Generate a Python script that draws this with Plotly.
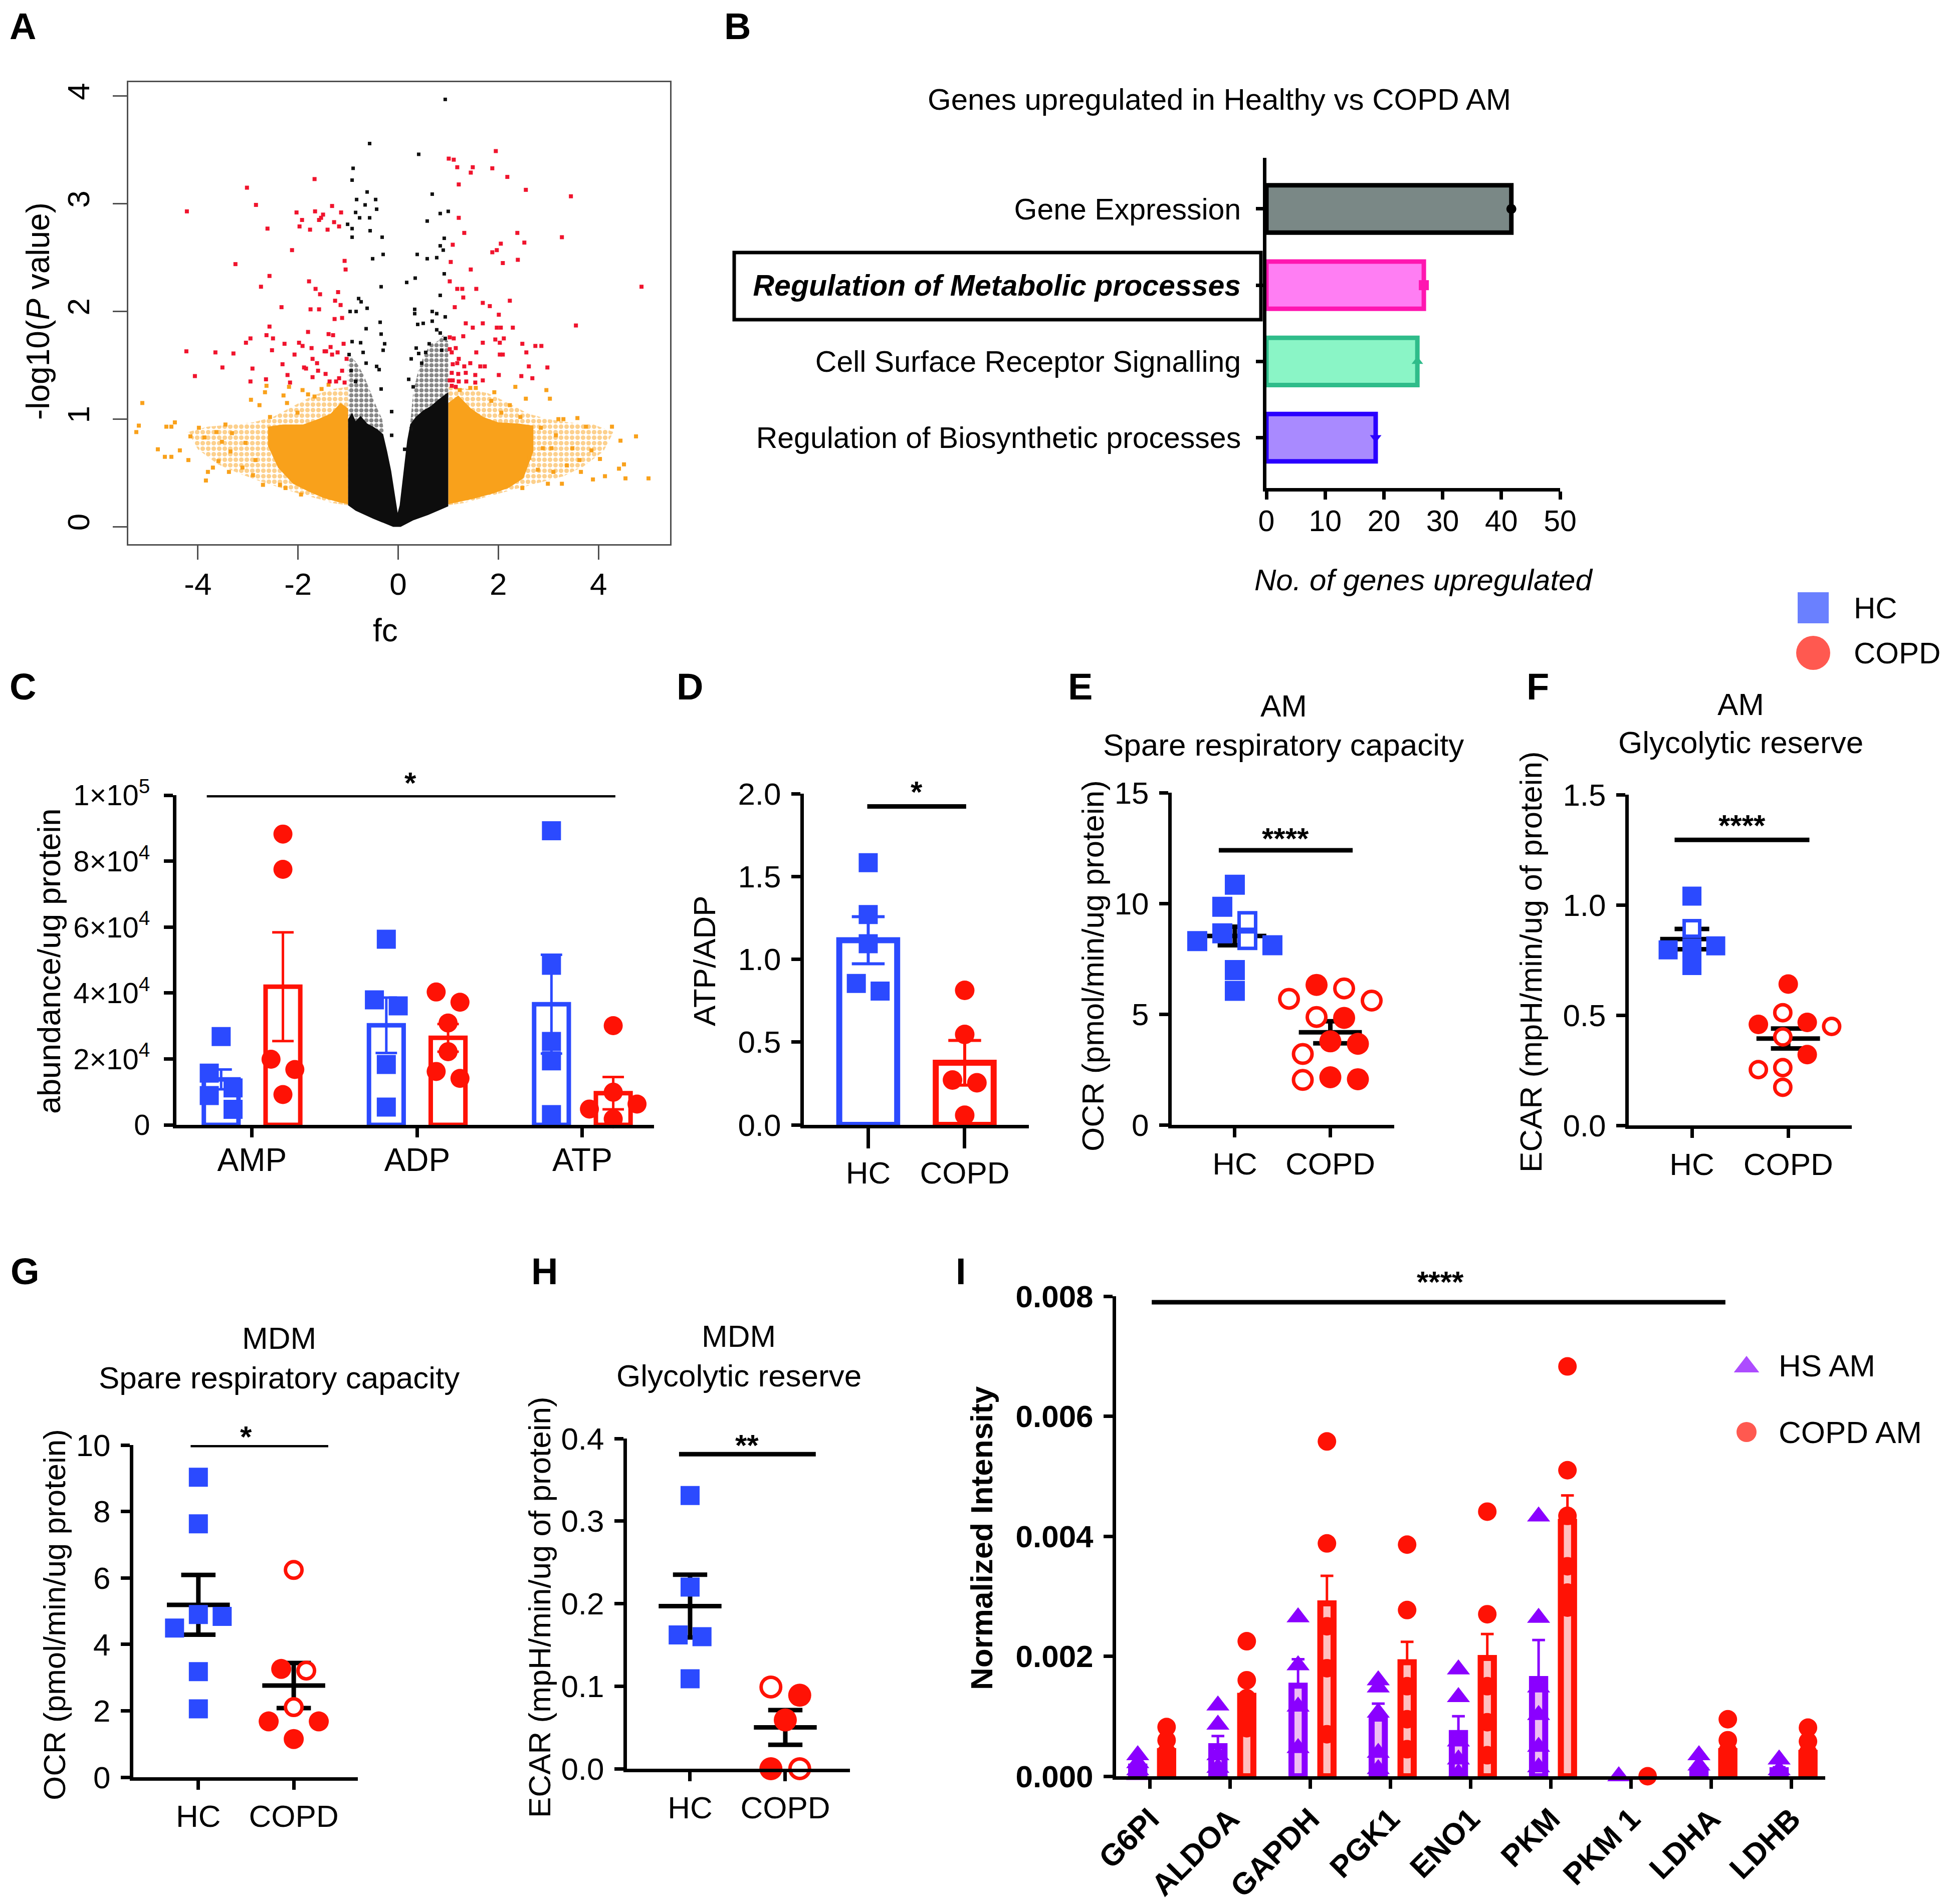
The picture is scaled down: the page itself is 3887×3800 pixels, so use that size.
import plotly.graph_objects as go

W, H = 3887, 3800
FONT = "Liberation Sans, Arial, Helvetica, sans-serif"
BLUE = "#2b4aff"
RED = "#ff1205"
PURPLE = "#8a00ff"
ORANGE = "#f9a11b"
VRED = "#f0142d"
LW = 7
FS = 62

# ======================= DATA =======================
# ---- Panel A: volcano (fc, -log10 P) ----
red_pts = [(-4.22,2.93),(-4.23,1.63),(-4.06,1.40),(-3.65,1.62),(-3.51,1.48),(-3.29,1.61),(-3.25,2.44),
 (-3.02,3.15),(-3.04,1.71),(-2.95,1.75),(-2.91,1.47),(-2.95,1.35),(-2.84,2.99),(-2.74,2.23),(-2.63,1.78),
 (-2.61,2.77),(-2.57,2.33),(-2.57,1.86),(-2.64,1.37),(-2.52,1.64),(-2.50,1.75),(-2.33,2.04),(-2.31,1.51),
 (-2.27,1.70),(-2.21,1.41),(-2.16,1.34),(-2.12,2.57),(-2.07,1.60),(-2.03,2.92),(-1.97,2.79),(-1.98,1.71),
 (-1.92,2.85),(-1.91,1.68),(-1.88,1.48),(-1.84,1.47),(-1.78,2.28),(-1.80,1.81),(-1.76,2.76),(-1.75,2.02),
 (-1.73,1.66),(-1.71,1.56),(-1.71,1.39),(-1.67,3.23),(-1.66,2.93),(-1.65,2.21),(-1.62,1.52),(-1.58,2.85),
 (-1.56,2.16),(-1.58,2.02),(-1.54,2.87),(-1.50,2.90),(-1.47,1.63),(-1.44,1.63),(-1.41,2.76),(-1.39,1.79),
 (-1.37,1.35),(-1.35,1.67),(-1.32,2.98),(-1.32,1.60),(-1.30,1.78),(-1.28,2.83),(-1.27,1.93),(-1.26,2.10),
 (-1.24,1.35),(-1.21,1.62),(-1.20,2.18),(-1.18,2.79),(-1.15,2.06),(-1.14,2.92),(-1.12,1.94),(-1.09,1.70),
 (-1.07,2.47),(-1.05,2.39),(-1.03,1.56),(-1.07,1.34),(-1.12,1.45),(-1.18,1.38),(-1.45,1.42),(-1.60,1.45),
 (1.01,3.42),(1.11,3.41),(1.18,3.34),(1.21,3.18),(1.45,3.29),(1.49,3.34),(1.88,3.33),(1.95,3.49),
 (2.18,3.25),(2.55,3.13),(3.45,3.07),(1.21,2.87),(1.32,2.73),(1.09,2.62),(1.88,2.55),(1.97,2.57),
 (2.05,2.63),(2.38,2.73),(2.52,2.64),(3.27,2.69),(1.05,2.46),(2.09,2.45),(2.39,2.48),(1.45,2.39),
 (1.03,2.28),(1.18,2.21),(1.28,2.21),(1.30,2.13),(1.56,2.21),(1.69,2.08),(1.83,2.05),(2.23,2.10),
 (4.86,2.23),(1.13,2.04),(1.35,1.89),(1.49,1.85),(1.69,1.89),(2.01,1.97),(1.97,1.85),(2.05,1.85),
 (2.29,1.85),(3.55,1.87),(1.03,1.76),(1.11,1.75),(1.30,1.77),(1.56,1.62),(1.69,1.71),(1.94,1.74),
 (2.03,1.71),(2.11,1.75),(2.48,1.70),(2.74,1.68),(2.86,1.68),(1.03,1.65),(1.07,1.62),(1.15,1.66),
 (1.21,1.56),(2.03,1.60),(2.09,1.60),(2.56,1.62),(1.09,1.51),(1.18,1.52),(1.32,1.49),(1.44,1.52),
 (1.64,1.49),(1.73,1.49),(2.61,1.49),(2.98,1.48),(1.07,1.43),(1.20,1.42),(1.35,1.43),(1.54,1.41),
 (2.01,1.41),(2.46,1.40),(2.68,1.38),(1.03,1.36),(1.09,1.36),(1.21,1.35),(1.36,1.35),(1.54,1.34),
 (1.69,1.36),(1.07,1.31),(1.15,1.30)]
black_pts = [(0.94,3.97),(-0.57,3.56),(0.41,3.46),(-0.90,3.33),(-0.92,3.22),(-0.62,3.11),(0.68,3.09),
 (-0.83,3.04),(-0.45,3.04),(-0.66,2.99),(-0.43,2.95),(1.00,2.93),(0.84,2.91),(-0.85,2.92),(-0.77,2.87),
 (-0.57,2.87),(0.58,2.84),(-1.01,2.81),(-0.92,2.77),(-0.56,2.75),(-0.32,2.69),(-0.92,2.69),(0.92,2.68),
 (0.90,2.57),(0.84,2.61),(-0.30,2.53),(0.38,2.53),(-0.51,2.49),(0.58,2.49),(0.77,2.50),(-0.34,2.23),
 (0.17,2.27),(0.34,2.31),(0.92,2.35),(0.84,2.15),(-0.79,2.12),(-0.74,2.09),(-0.62,2.03),(-0.84,2.00),
 (-0.96,2.00),(0.33,2.02),(0.33,1.98),(0.68,2.00),(0.77,1.98),(0.94,1.95),(-0.36,1.90),(0.39,1.88),
 (0.50,1.89),(0.68,1.91),(-0.64,1.84),(-0.34,1.79),(0.77,1.83),(0.84,1.80),(-0.92,1.72),(-0.75,1.71),
 (-0.27,1.70),(0.36,1.66),(0.41,1.61),(0.62,1.70),(-0.30,1.64),(-0.64,1.52),(-0.43,1.49),(-0.38,1.46),
 (0.26,1.56),(0.47,1.52),(-0.13,1.07),(-0.13,0.85),(0.21,1.37),(0.30,1.30),(-0.34,1.28),(-0.94,1.45),
 (-0.85,1.35),(0.87,1.64),(0.94,1.75),(0.13,0.72),(0.26,0.91),(-0.70,1.62),(-0.98,1.60),(0.55,1.62)]
orange_pts = [(-5.11,1.15),(-5.18,0.94),(-5.23,0.88),(-4.63,0.93),(-4.53,0.93),(-4.46,0.97),(-4.80,0.72),
 (-4.66,0.65),(-4.53,0.65),(-4.36,0.71),(-4.19,0.62),(-4.15,0.84),(-3.98,0.92),(-3.87,0.83),(-3.84,0.43),
 (-3.80,0.51),(-3.70,0.55),(-3.63,0.88),(-3.59,0.61),(-3.52,0.79),(-3.38,0.51),(-3.35,0.70),(-3.32,0.87),
 (-3.11,0.55),(-2.94,1.18),(-2.77,1.13),(-2.70,0.39),(-2.66,1.25),(-2.63,1.31),(-2.56,1.02),(-2.36,0.39),
 (-2.29,1.22),(-2.25,0.36),(-2.22,1.15),(-2.18,1.30),(-1.91,1.27),(-1.80,1.23),(-2.01,1.06),(-1.94,0.30),
 (-1.67,1.21),(-1.53,1.28),(-1.39,1.32),(-3.05,0.78),(-2.85,0.62),(-3.45,0.95),(-2.90,0.48),
 (5.00,0.45),(4.75,0.84),(4.54,0.45),(4.51,0.58),(4.44,0.80),(4.41,0.54),(4.27,0.93),(4.13,0.47),
 (4.03,0.63),(3.89,0.44),(3.86,0.71),(3.75,0.93),(3.65,0.51),(3.62,0.62),(3.58,1.01),(3.48,0.73),
 (3.37,0.57),(3.30,1.00),(3.27,0.40),(3.20,1.00),(3.10,0.51),(3.06,0.73),(2.99,0.40),(2.96,1.27),
 (3.03,1.19),(2.79,0.53),(2.62,0.64),(2.55,1.19),(2.48,0.36),(2.44,1.02),(2.34,1.30),(2.23,1.13),
 (2.06,1.06),(1.92,1.25),(1.86,1.17),(1.55,1.29),(1.44,1.29),(1.23,1.27),(2.89,0.73),(3.15,0.85),(2.85,0.92)]
# dense regions (envelopes)
orange_halo_L = [(-1.0,0.20),(-1.0,1.30),(-1.3,1.28),(-1.7,1.22),(-2.1,1.12),(-2.5,1.02),(-2.9,0.97),(-3.3,0.95),
 (-3.8,0.93),(-4.2,0.88),(-4.0,0.72),(-3.6,0.58),(-3.2,0.50),(-2.8,0.43),(-2.4,0.37),(-2.0,0.31),(-1.6,0.26),(-1.3,0.22)]
orange_core_L = [(-1.0,0.21),(-1.0,1.10),(-1.15,1.15),(-1.35,1.05),(-1.6,1.00),(-1.9,0.95),(-2.3,0.95),(-2.6,0.93),
 (-2.6,0.75),(-2.4,0.55),(-2.1,0.40),(-1.8,0.33),(-1.5,0.27),(-1.2,0.23)]
orange_halo_R = [(1.0,0.20),(1.0,1.30),(1.4,1.28),(1.8,1.24),(2.2,1.15),(2.6,1.05),(3.0,1.00),(3.4,0.97),(3.9,0.95),
 (4.3,0.88),(4.1,0.70),(3.7,0.56),(3.3,0.47),(2.9,0.42),(2.5,0.37),(2.1,0.32),(1.7,0.27),(1.3,0.22)]
orange_core_R = [(1.0,0.21),(1.0,1.15),(1.2,1.22),(1.45,1.10),(1.7,1.02),(2.0,0.97),(2.4,0.96),(2.7,0.94),(2.7,0.70),
 (2.5,0.45),(2.2,0.36),(1.9,0.31),(1.5,0.26),(1.2,0.23)]
black_halo_L = [(-1.0,0.95),(-1.0,1.55),(-0.92,1.58),(-0.8,1.50),(-0.68,1.40),(-0.55,1.25),(-0.42,1.10),(-0.32,1.00),(-0.28,0.86)]
black_halo_R = [(0.24,0.95),(0.30,1.25),(0.40,1.45),(0.52,1.60),(0.65,1.70),(0.78,1.72),(0.90,1.78),(1.0,1.72),(1.0,1.20)]
black_core = [(-1.0,0.20),(-1.0,1.00),(-0.92,1.06),(-0.85,0.98),(-0.75,1.03),(-0.62,0.96),(-0.5,0.93),(-0.4,0.90),
 (-0.3,0.86),(-0.22,0.70),(-0.14,0.52),(-0.08,0.34),(-0.04,0.20),(-0.01,0.13),(0.03,0.20),(0.08,0.40),(0.13,0.60),
 (0.18,0.80),(0.24,0.95),(0.35,1.02),(0.5,1.08),(0.65,1.12),(0.8,1.18),(0.92,1.22),(1.0,1.25),(1.0,0.19),
 (0.6,0.11),(0.3,0.06),(0.05,0.0),(-0.1,0.0),(-0.5,0.075),(-0.85,0.15)]

# ---- Panel B ----
B_terms = ["Gene Expression", "Regulation of Metabolic processes",
           "Cell Surface Receptor Signalling", "Regulation of Biosynthetic processes"]
B_counts = [41.7, 26.8, 25.7, 18.6]

# ---- Panel C ----
C_metab = ["AMP", "ADP", "ATP"]
C_hc_mean = [13.8e3, 30.2e3, 36.6e3]
C_hc_sem = [3.0e3, 8.4e3, 15.0e3]
C_copd_mean = [41.9e3, 26.4e3, 9.6e3]
C_copd_sem = [16.5e3, 4.2e3, 4.9e3]
C_hc_pts = [[26.8e3, 15.7e3, 11.2e3, 8.9e3, 4.7e3], [56.3e3, 36.1e3, 37.9e3, 18.3e3, 5.4e3],
            [89.2e3, 48.4e3, 25.3e3, 19.4e3, 3.1e3]]
C_copd_pts = [[88.2e3, 77.5e3, 19.9e3, 16.8e3, 9.2e3], [40.3e3, 37.2e3, 30.9e3, 22.2e3, 14.1e3, 16.2e3],
              [30.1e3, 9.9e3, 6.3e3, 4.8e3, 1.8e3]]

groups = ["HC", "COPD"]
# ---- Panel D ----
D_hc = [1.583, 1.27, 1.094, 0.808, 0.854]
D_copd = [0.8125, 0.546, 0.271, 0.254, 0.058]
D_mean = [1.115, 0.375]
D_sem = [0.142, 0.135]
# ---- Panel E ----
E_hc_filled = [10.84, 9.85, 8.65, 8.11, 6.99, 6.05, 8.30]
E_hc_open = [9.2, 8.34]
E_copd_filled = [6.32, 4.83, 3.66, 3.77, 2.15, 2.06]
E_copd_open = [5.61, 5.69, 6.16, 4.87, 3.20, 2.03]
E_mean = [8.53, 4.18]
E_sem = [0.42, 0.50]
# ---- Panel F ----
F_hc_filled = [1.04, 0.805, 0.725, 0.814, 0.796]
F_hc_open = [0.893]
F_copd_filled = [0.641, 0.467, 0.458, 0.321]
F_copd_open = [0.511, 0.449, 0.401, 0.262, 0.253, 0.173]
F_mean = [0.845, 0.394]
F_sem = [0.046, 0.045]
# ---- Panel G ----
G_hc_filled = [9.03, 7.63, 4.84, 4.90, 4.49, 3.18, 2.06]
G_copd_filled = [3.26, 1.68, 1.68, 1.15]
G_copd_open = [6.24, 3.21, 2.11]
G_mean = [5.19, 2.76]
G_sem = [0.90, 0.68]
# ---- Panel H ----
H_hc_filled = [0.331, 0.220, 0.162, 0.160, 0.109]
H_copd_filled = [0.089, 0.059, 0.0]
H_copd_open = [0.099, 0.0]
H_mean = [0.197, 0.050]
H_sem = [0.038, 0.021]
# ---- Panel I ----
I_genes = ["G6PI", "ALDOA", "GAPDH", "PGK1", "ENO1", "PKM", "PKM 1", "LDHA", "LDHB"]
I_hs_mean = [0.00016, 0.00050, 0.00151, 0.00096, 0.00072, 0.00162, 0.0, 0.00010, 0.00010]
I_hs_sem = [0.00006, 0.00017, 0.00044, 0.00025, 0.00028, 0.00065, 0.0, 0.00006, 0.00005]
I_copd_mean = [0.00042, 0.00134, 0.00288, 0.00190, 0.00197, 0.00424, 0.0, 0.00042, 0.00039]
I_copd_sem = [0.00010, 0.00005, 0.00046, 0.00034, 0.00040, 0.00044, 0.0, 0.00010, 0.00010]
I_hs_pts = [[0.00035, 0.00022, 0.0001, 0.00005, 0.00002], [0.00118, 0.00086, 0.00035, 0.00014, 0.00005],
            [0.00265, 0.00185, 0.00116, 0.00047], [0.0016, 0.00148, 0.00106, 0.00039, 0.00012],
            [0.00178, 0.00132, 0.00058, 0.00028, 0.00005], [0.00433, 0.00264, 0.00148, 0.00102, 0.00049, 0.00015],
            [0.0], [0.00035, 0.00018, 0.00004], [0.00028, 0.0001, 0.00003]]
I_copd_pts = [[0.00082, 0.0006, 0.0004, 0.00028, 0.00014], [0.00225, 0.0016, 0.0013, 0.00115, 0.00095, 0.0008],
              [0.00558, 0.00388, 0.0025, 0.0018, 0.0007], [0.00386, 0.00277, 0.0015, 0.00095, 0.00045],
              [0.00441, 0.0027, 0.0015, 0.0009, 0.00035], [0.00683, 0.0051, 0.00434, 0.0035, 0.00306, 0.00281],
              [0.0], [0.00095, 0.0006, 0.00042, 0.00028, 0.0001], [0.00081, 0.00058, 0.00039, 0.00025, 0.0001]]

# ======================= LAYOUT GEOMETRY (pixels) =======================
GEO = {
    1: dict(x0=248, x1=1329, yt=156, yb=1078, xr=[-5.39, 5.43], yr=[-0.161, 4.13]),
    2: dict(x0=2519, x1=3105, yt=307, yb=966, xr=[0, 50], yr=[3.66, -0.67]),
    3: dict(x0=344, x1=1297, yt=1579, yb=2237, xr=[-0.458, 2.434], yr=[0, 1e5]),
    4: dict(x0=1596, x1=2045, yt=1576, yb=2237, xr=[-0.667, 1.665], yr=[0, 2]),
    5: dict(x0=2330, x1=2774, yt=1574, yb=2237, xr=[-0.661, 1.669], yr=[0, 15]),
    6: dict(x0=3242, x1=3687, yt=1578, yb=2238, xr=[-0.656, 1.66], yr=[0, 1.5]),
    7: dict(x0=258, x1=706, yt=2876, yb=3539, xr=[-0.682, 1.672], yr=[0, 10]),
    8: dict(x0=1243, x1=1688, yt=2863, yb=3522, xr=[-0.663, 1.679], yr=[0, 0.4]),
    9: dict(x0=2219, x1=3634, yt=2579, yb=3537, xr=[-0.425, 8.42], yr=[0, 0.008]),
}


def ppu(n):
    g = GEO[n]
    return ((g["x1"] - g["x0"]) / (g["xr"][1] - g["xr"][0]),
            (g["yb"] - g["yt"]) / abs(g["yr"][1] - g["yr"][0]))


def ax(n):
    return ("x" if n == 1 else f"x{n}"), ("y" if n == 1 else f"y{n}")


def swarm(vals, n, d, gap=1.15):
    """beeswarm offsets (axis units) computed from the values"""
    px_x, px_y = ppu(n)
    ys = [v * px_y for v in vals]
    order = sorted(range(len(vals)), key=lambda i: -vals[i])
    step = d * 0.25
    cands = [0.0]
    for j in range(1, 60):
        cands += [j * step, -j * step]
    placed, offs = [], [0.0] * len(vals)
    for i in order:
        for c in cands:
            if all(abs(c - ox) >= d * gap or abs(ys[i] - oy) >= d * 0.92 for ox, oy in placed):
                break
        offs[i] = c
        placed.append((c, ys[i]))
    par = list(range(len(vals)))

    def find(a):
        while par[a] != a:
            a = par[a]
        return a
    for i in range(len(vals)):
        for j in range(i + 1, len(vals)):
            if abs(ys[i] - ys[j]) < d * 0.92:
                par[find(i)] = find(j)
    comps = {}
    for i in range(len(vals)):
        comps.setdefault(find(i), []).append(i)
    for members in comps.values():
        m = sum(offs[k] for k in members) / len(members)
        for k in members:
            offs[k] -= m
    return [o / px_x for o in offs]


fig = go.Figure()


def add(tr):
    fig.add_trace(tr)


def poly(pts, n, color, pattern=None):
    xa, ya = ax(n)
    kw = {}
    if pattern is not None:
        kw["fillpattern"] = pattern
        color = "rgba(0,0,0,0)"
    add(go.Scatter(x=[p[0] for p in pts], y=[p[1] for p in pts], mode="lines", fill="toself",
                   fillcolor=color, line=dict(width=0), xaxis=xa, yaxis=ya, hoverinfo="skip",
                   showlegend=False, **kw))


def pts_trace(pts, n, color, size):
    xa, ya = ax(n)
    add(go.Scatter(x=[p[0] for p in pts], y=[p[1] for p in pts], mode="markers",
                   marker=dict(color=color, size=size, symbol="square", line=dict(width=0)), xaxis=xa, yaxis=ya,
                   hoverinfo="skip", showlegend=False))


# ---------------- Panel A ----------------
opat = dict(shape=".", fgcolor=ORANGE, bgcolor="rgba(0,0,0,0)", size=11, solidity=0.55)
kpat = dict(shape=".", fgcolor="#111111", bgcolor="rgba(0,0,0,0)", size=10, solidity=0.6)
poly(orange_halo_L, 1, None, opat)
poly(orange_halo_R, 1, None, opat)
poly(orange_core_L, 1, ORANGE)
poly(orange_core_R, 1, ORANGE)
poly(black_halo_L, 1, None, kpat)
poly(black_halo_R, 1, None, kpat)
poly(black_core, 1, "#0d0d0d")
pts_trace(orange_pts, 1, ORANGE, 8)
pts_trace(black_pts, 1, "#111111", 7)
pts_trace(red_pts, 1, VRED, 8)

# ---------------- Panel B ----------------
B_fill = ["#7a8886", "#ff7ef3", "#8af5c6", "#a98aff"]
B_line = ["#000000", "#ff16b0", "#2fbc8a", "#2a00ff"]
B_sym = ["circle", "square", "triangle-up", "triangle-down"]
B_pos = list(range(len(B_terms)))
add(go.Bar(x=B_counts, y=B_pos, orientation="h", width=0.62,
           marker=dict(color=B_fill, line=dict(color=B_line, width=9)),
           xaxis="x2", yaxis="y2", showlegend=False, hoverinfo="skip"))
add(go.Scatter(x=B_counts, y=B_pos, mode="markers",
               marker=dict(symbol=B_sym, color=B_line, size=20, line=dict(width=0)),
               xaxis="x2", yaxis="y2", showlegend=False, hoverinfo="skip", cliponaxis=False))


# ---------------- helpers for GraphPad panels ----------------
def err_lines(xc, means, sems, n, color, width, cap, up_only=False):
    xa, ya = ax(n)
    xs, ys = [], []
    for x, m, s in zip(xc, means, sems):
        if s <= 0:
            continue
        lo = m if up_only else m - s
        xs += [x, x, None, x - cap, x + cap, None]
        ys += [lo, m + s, None, m + s, m + s, None]
        if not up_only:
            xs += [x - cap, x + cap, None]
            ys += [m - s, m - s, None]
    add(go.Scatter(x=xs, y=ys, mode="lines", line=dict(color=color, width=width),
                   xaxis=xa, yaxis=ya, cliponaxis=False, showlegend=False, hoverinfo="skip"))


def mean_sem(means, sems, n):
    xa, ya = ax(n)
    xs, ys = [], []
    for i, (m, s) in enumerate(zip(means, sems)):
        xs += [i - 0.33, i + 0.33, None, i, i, None, i - 0.18, i + 0.18, None, i - 0.18, i + 0.18, None]
        ys += [m, m, None, m - s, m + s, None, m + s, m + s, None, m - s, m - s, None]
    add(go.Scatter(x=xs, y=ys, mode="lines", line=dict(color="black", width=9),
                   xaxis=xa, yaxis=ya, cliponaxis=False, showlegend=False, hoverinfo="skip"))


def dots(xc, filled, opened, n, color, symbol, size):
    xa, ya = ax(n)
    allv = list(filled) + list(opened)
    off = swarm(allv, n, size)
    xs = [xc + o for o in off]
    if filled:
        add(go.Scatter(x=xs[:len(filled)], y=filled, mode="markers",
                       marker=dict(symbol=symbol, color=color, size=size, line=dict(width=0)),
                       xaxis=xa, yaxis=ya, cliponaxis=False, showlegend=False, hoverinfo="skip"))
    if opened:
        add(go.Scatter(x=xs[len(filled):], y=opened, mode="markers",
                       marker=dict(symbol=symbol, color="white", size=size - 7, line=dict(color=color, width=7)),
                       xaxis=xa, yaxis=ya, cliponaxis=False, showlegend=False, hoverinfo="skip"))


def sig_line(xa0, xa1, yv, n):
    xa, ya = ax(n)
    add(go.Scatter(x=[xa0, xa1], y=[yv, yv], mode="lines", line=dict(color="black", width=9),
                   xaxis=xa, yaxis=ya, cliponaxis=False, showlegend=False, hoverinfo="skip"))


# ---------------- Panel C ----------------
OFF_C = 0.187
cx_hc = [i - OFF_C for i in range(len(C_metab))]
cx_copd = [i + OFF_C for i in range(len(C_metab))]
add(go.Bar(x=cx_hc, y=C_hc_mean, width=0.21, marker=dict(color="white", line=dict(color=BLUE, width=9)),
           xaxis="x3", yaxis="y3", showlegend=False, hoverinfo="skip"))
add(go.Bar(x=cx_copd, y=C_copd_mean, width=0.21, marker=dict(color="white", line=dict(color=RED, width=9)),
           xaxis="x3", yaxis="y3", showlegend=False, hoverinfo="skip"))
err_lines(cx_hc, C_hc_mean, C_hc_sem, 3, BLUE, 5, 0.065)
err_lines(cx_copd, C_copd_mean, C_copd_sem, 3, RED, 5, 0.065)
for i in range(len(C_metab)):
    dots(cx_hc[i], C_hc_pts[i], [], 3, BLUE, "square", 38)
    dots(cx_copd[i], C_copd_pts[i], [], 3, RED, "circle", 38)
sig_line(-0.274, 2.2, 1e5, 3)

# ---------------- Panel D ----------------
add(go.Bar(x=[0, 1], y=D_mean, width=0.6,
           marker=dict(color="white", line=dict(color=[BLUE, RED], width=12)),
           xaxis="x4", yaxis="y4", showlegend=False, hoverinfo="skip"))
err_lines([0], D_mean[:1], D_sem[:1], 4, BLUE, 6, 0.17)
err_lines([1], D_mean[1:], D_sem[1:], 4, RED, 6, 0.17)
dots(0, D_hc, [], 4, BLUE, "square", 38)
dots(1, D_copd, [], 4, RED, "circle", 39)
sig_line(-0.01, 1.015, 1.923, 4)

# ---------------- Panels E-H ----------------
mean_sem(E_mean, E_sem, 5)
dots(0, E_hc_filled, E_hc_open, 5, BLUE, "square", 40)
dots(1, E_copd_filled, E_copd_open, 5, RED, "circle", 44)
sig_line(-0.168, 1.234, 12.4, 5)

mean_sem(F_mean, F_sem, 6)
dots(0, F_hc_filled, F_hc_open, 6, BLUE, "square", 38)
dots(1, F_copd_filled, F_copd_open, 6, RED, "circle", 39)
sig_line(-0.18, 1.22, 1.295, 6)

mean_sem(G_mean, G_sem, 7)
dots(0, G_hc_filled, [], 7, BLUE, "square", 38)
dots(1, G_copd_filled, G_copd_open, 7, RED, "circle", 40)
sig_line(-0.081, 1.362, 10.0, 7)

mean_sem(H_mean, H_sem, 8)
dots(0, H_hc_filled, [], 8, BLUE, "square", 38)
dots(1, H_copd_filled, H_copd_open, 8, RED, "circle", 46)
sig_line(-0.116, 1.32, 0.381, 8)

# ---------------- Panel I ----------------
ix_hs = [i - 0.155 for i in range(len(I_genes))]
ix_copd = [i + 0.205 for i in range(len(I_genes))]
add(go.Bar(x=ix_hs, y=[v if v > 0 else None for v in I_hs_mean], width=0.165,
           marker=dict(color="#efbdf2", line=dict(color=PURPLE, width=12)),
           xaxis="x9", yaxis="y9", showlegend=False, hoverinfo="skip"))
add(go.Bar(x=ix_copd, y=[v if v > 0 else None for v in I_copd_mean], width=0.165,
           marker=dict(color="#ffc0c0", line=dict(color=RED, width=12)),
           xaxis="x9", yaxis="y9", showlegend=False, hoverinfo="skip"))
hx, hy, cxs, cys = [], [], [], []
for i in range(len(I_genes)):
    hx += [ix_hs[i]] * len(I_hs_pts[i])
    hy += I_hs_pts[i]
    cxs += [ix_copd[i]] * len(I_copd_pts[i])
    cys += I_copd_pts[i]
err_lines(ix_hs, I_hs_mean, I_hs_sem, 9, PURPLE, 5, 0.08, up_only=True)
err_lines(ix_copd, I_copd_mean, I_copd_sem, 9, RED, 5, 0.08, up_only=True)
add(go.Scatter(x=hx, y=hy, mode="markers", marker=dict(symbol="triangle-up", color=PURPLE, size=40, line=dict(width=0)),
               xaxis="x9", yaxis="y9", cliponaxis=False, showlegend=False, hoverinfo="skip"))
add(go.Scatter(x=cxs, y=cys, mode="markers", marker=dict(symbol="circle", color=RED, size=37, line=dict(width=0)),
               xaxis="x9", yaxis="y9", cliponaxis=False, showlegend=False, hoverinfo="skip"))
sig_line(0.02, 7.175, 0.0079, 9)

# ---------------- manual legends (overlay axis in pixel units) ----------------
add(go.Scatter(x=[3610, 3610, 3477, 3477], y=[1205, 1295, 2720, 2850], mode="markers",
               marker=dict(symbol=["square", "circle", "triangle-up", "circle"], color=[BLUE, RED, PURPLE, RED],
                           size=[62, 68, 44, 40], line=dict(width=0)),
               xaxis="x10", yaxis="y10", cliponaxis=False, showlegend=False, hoverinfo="skip"))

# ======================= AXES =======================
layout = dict(width=W, height=H, margin=dict(l=0, r=0, t=0, b=0, pad=0, autoexpand=False),
              paper_bgcolor="white", plot_bgcolor="rgba(0,0,0,0)", barmode="overlay", showlegend=False,
              font=dict(family=FONT, size=FS, color="black"), autosize=False)


def dom(n):
    g = GEO[n]
    return [g["x0"] / W, g["x1"] / W], [1 - g["yb"] / H, 1 - g["yt"] / H]


def set_axes(n, xkw, ykw):
    xd, yd = dom(n)
    xa, ya = ax(n)
    g = GEO[n]
    base = dict(showgrid=False, zeroline=False, showline=True, linecolor="black", linewidth=LW,
                ticks="outside", tickwidth=LW, tickcolor="black", ticklen=18, fixedrange=True,
                automargin=False, tickfont=dict(family=FONT, size=FS, color="black"))
    xdict = dict(base, domain=xd, range=g["xr"], anchor=ya)
    xdict.update(xkw)
    ydict = dict(base, domain=yd, range=g["yr"], anchor=xa)
    ydict.update(ykw)
    layout["xaxis" if n == 1 else f"xaxis{n}"] = xdict
    layout["yaxis" if n == 1 else f"yaxis{n}"] = ydict


set_axes(1, dict(mirror=True, linecolor="#505050", linewidth=3, tickcolor="#505050", tickwidth=3, ticklen=28,
                 tickvals=[-4, -2, 0, 2, 4], ticktext=["-4", "-2", "0", "2", "4"],
                 tickfont=dict(family=FONT, size=62, color="black"), ticklabelstandoff=-4),
         dict(mirror=True, linecolor="#505050", linewidth=3, tickcolor="#505050", tickwidth=3, ticklen=28,
              tickvals=[0, 1, 2, 3, 4], ticktext=["0", "1", "2", "3", "4"], tickangle=-90,
              tickfont=dict(family=FONT, size=62, color="black"), ticklabelstandoff=22))
set_axes(2, dict(tickvals=[0, 10, 20, 30, 40, 50], ticklen=16, tickfont=dict(family=FONT, size=59, color="black"),
                 ticklabelstandoff=-8),
         dict(tickvals=B_pos, ticktext=["Gene Expression", "<b><i>Regulation of Metabolic processes</i></b>",
                                        "Cell Surface Receptor Signalling", "Regulation of Biosynthetic processes"],
              ticklen=14, tickfont=dict(family=FONT, size=59, color="black"), ticklabelstandoff=18))
set_axes(3, dict(tickvals=list(range(len(C_metab))), ticktext=C_metab, ticklabelstandoff=-10,
                 tickfont=dict(family=FONT, size=64, color="black")),
         dict(tickvals=[0, 2e4, 4e4, 6e4, 8e4, 1e5],
              ticktext=["0", "2×10<sup>4</sup>", "4×10<sup>4</sup>", "6×10<sup>4</sup>", "8×10<sup>4</sup>",
                        "1×10<sup>5</sup>"], ticklabelstandoff=16, tickfont=dict(family=FONT, size=58, color="black")))
set_axes(4, dict(tickvals=[0, 1], ticktext=groups, ticklen=40, ticklabelstandoff=-4),
         dict(tickvals=[0, 0.5, 1.0, 1.5, 2.0], ticktext=["0.0", "0.5", "1.0", "1.5", "2.0"], ticklabelstandoff=8))
set_axes(5, dict(tickvals=[0, 1], ticktext=groups, ticklabelstandoff=0),
         dict(tickvals=[0, 5, 10, 15], ticktext=["0", "5", "10", "15"], ticklabelstandoff=8))
set_axes(6, dict(tickvals=[0, 1], ticktext=groups, ticklabelstandoff=0),
         dict(tickvals=[0, 0.5, 1.0, 1.5], ticktext=["0.0", "0.5", "1.0", "1.5"], ticklabelstandoff=8))
set_axes(7, dict(tickvals=[0, 1], ticktext=groups, ticklabelstandoff=0),
         dict(tickvals=[0, 2, 4, 6, 8, 10], ticktext=["0", "2", "4", "6", "8", "10"], ticklabelstandoff=8))
set_axes(8, dict(tickvals=[0, 1], ticktext=groups, ticklabelstandoff=0),
         dict(tickvals=[0, 0.1, 0.2, 0.3, 0.4], ticktext=["0.0", "0.1", "0.2", "0.3", "0.4"], ticklabelstandoff=8))
set_axes(9, dict(tickvals=list(range(len(I_genes))), ticktext=I_genes, tickangle=-45,
                 tickfont=dict(family=FONT, size=61, color="black", weight="bold"), ticklabelstandoff=0),
         dict(tickvals=[0, 0.002, 0.004, 0.006, 0.008], ticktext=["0.000", "0.002", "0.004", "0.006", "0.008"],
              tickfont=dict(family=FONT, size=62, color="black", weight="bold"), ticklabelstandoff=8))
layout["xaxis10"] = dict(domain=[0, 1], range=[0, W], visible=False, anchor="y10", fixedrange=True, automargin=False)
layout["yaxis10"] = dict(domain=[0, 1], range=[H, 0], visible=False, anchor="x10", fixedrange=True, automargin=False)

# ======================= TEXT =======================
ann = []


def txt(text, x, y, size=FS, angle=0, xanchor="center", weight="normal", italic=False):
    ann.append(dict(text=text, x=x / W, y=1 - y / H, xref="paper", yref="paper", showarrow=False,
                    textangle=angle, xanchor=xanchor, yanchor="middle", borderpad=0,
                    font=dict(family=FONT, size=size, color="black", weight=weight,
                              style="italic" if italic else "normal")))


def stars(text, x, y, n, shift):
    xa, ya = ax(n)
    ann.append(dict(text="<b>" + text + "</b>", x=x, y=y, xref=xa, yref=ya, showarrow=False,
                    xanchor="center", yanchor="bottom", yshift=shift,
                    font=dict(family=FONT, size=60, color="black")))


# panel letters
for L, (x, y) in {"A": (37, 45), "B": (1463, 45), "C": (37, 1363), "D": (1368, 1363), "E": (2147, 1363),
                  "F": (3060, 1363), "G": (42, 2529), "H": (1078, 2529), "I": (1909, 2529)}.items():
    txt(L, x, y, size=74, weight="bold")

# A
txt("-log10(<i>P</i> value)", 68, 613, size=64, angle=-90)
txt("fc", 761, 1250, size=64)
# B
txt("Genes upregulated in Healthy vs COPD AM", 2425, 191, size=60)
txt("No. of genes upregulated", 2832, 1150, size=60, italic=True)
# C
txt("abundance/ug protein", 90, 1910, angle=-90, size=63)
stars("*", 0.96, 1e5, 3, -11)
# D
txt("ATP/ADP", 1397, 1910, angle=-90)
stars("*", 0.5, 1.923, 4, -7)
# E
txt("AM", 2553, 1400)
txt("Spare respiratory capacity", 2553, 1478)
txt("OCR (pmol/min/ug protein)", 2172, 1920, angle=-90)
stars("****", 0.53, 12.4, 5, -12)
# F
txt("AM", 3465, 1397)
txt("Glycolytic reserve", 3465, 1473)
txt("ECAR (mpH/min/ug of protein)", 3046, 1912, angle=-90)
stars("****", 0.52, 1.295, 6, -7)
# G
txt("MDM", 549, 2662)
txt("Spare respiratory capacity", 549, 2741)
txt("OCR (pmol/min/ug protein)", 100, 3215, angle=-90)
stars("*", 0.5, 10.0, 7, -19)
# H
txt("MDM", 1466, 2658)
txt("Glycolytic reserve", 1466, 2737)
txt("ECAR (mpH/min/ug of protein)", 1068, 3200, angle=-90)
stars("**", 0.6, 0.381, 8, -18)
# I
txt("Normalized Intensity", 1950, 3062, angle=-90, weight="bold")
stars("****", 3.62, 0.0079, 9, 5)
# legends
txt("HC", 3690, 1205, xanchor="left", size=60)
txt("COPD", 3690, 1295, xanchor="left", size=60)
txt("HS AM", 3540, 2717, xanchor="left")
txt("COPD AM", 3540, 2850, xanchor="left")

layout["annotations"] = ann
layout["shapes"] = [dict(type="rect", xref="paper", yref="paper", x0=1457 / W, x1=2508 / W,
                         y0=1 - 630 / H, y1=1 - 496 / H, line=dict(color="black", width=7))]

fig.update_layout(**layout)
fig.write_html("out.html")
